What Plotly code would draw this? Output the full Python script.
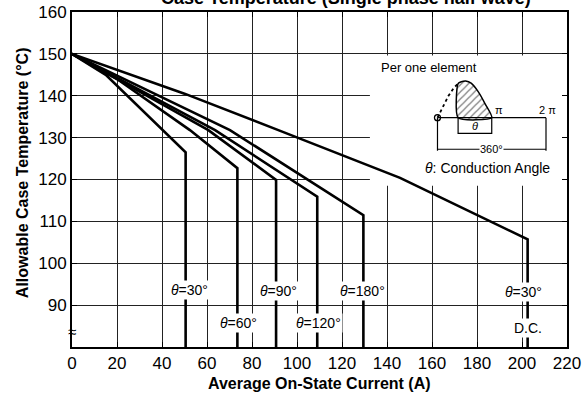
import plotly.graph_objects as go

# ---------------- data ----------------
cur_30 = [0, 15, 50.5, 50.5]
tmp_30 = [150, 145, 126.5, 80]
cur_60 = [0, 20, 52.4, 73.5, 73.5]
tmp_60 = [150, 144, 131.8, 122.7, 80]
cur_90 = [0, 25, 60.6, 90.7, 90.7]
tmp_90 = [150, 142.5, 131.8, 119.9, 80]
cur_120 = [0, 30, 63.6, 109, 109]
tmp_120 = [150, 141.5, 131.8, 115.9, 80]
cur_180 = [0, 35, 70.2, 129.5, 129.5]
tmp_180 = [150, 141, 131.8, 111.5, 80]
cur_dc = [0, 50, 91.7, 145.8, 202.5, 202.5]
tmp_dc = [150, 140.5, 131.8, 120.4, 105.7, 80]

curves = [(cur_30, tmp_30), (cur_60, tmp_60), (cur_90, tmp_90),
          (cur_120, tmp_120), (cur_180, tmp_180), (cur_dc, tmp_dc)]

label_text = ["<i>θ</i>=30°", "<i>θ</i>=60°", "<i>θ</i>=90°", "<i>θ</i>=120°",
              "<i>θ</i>=180°", "<i>θ</i>=30°", "D.C."]
label_x = [52.4, 73.9, 91.7, 109.5, 129.3, 200.6, 202.8]
label_y = [93.6, 85.7, 93.4, 85.7, 93.4, 93.2, 84.5]

x_ticks = list(range(0, 221, 20))
y_ticks = list(range(80, 161, 10))
y_ticktext = [""] + [str(v) for v in y_ticks[1:]]

# inset sketch (units: angle in pi, amplitude 1)
hump_x = [0.38, 0.38, 0.44, 0.52, 0.62, 0.75, 0.88, 1.0, 0.38]
hump_y = [0.0, 0.93, 0.98, 1.0, 0.94, 0.71, 0.37, 0.0, 0.0]
dot_x = [0, 0.1, 0.2, 0.3, 0.38]
dot_y = [0, 0.31, 0.59, 0.81, 0.93]

FONT = "Liberation Sans, Arial, sans-serif"

fig = go.Figure()

for cx, cy in curves:
    fig.add_trace(go.Scatter(x=cx, y=cy, mode="lines",
                             line=dict(color="black", width=2.6),
                             showlegend=False, hoverinfo="skip"))

# inset traces
fig.add_trace(go.Scatter(x=hump_x, y=hump_y, mode="lines", fill="toself",
                         fillcolor="white",
                         fillpattern=dict(shape="/", fgcolor="black", bgcolor="white",
                                          size=5, solidity=0.25),
                         line=dict(color="black", width=1.5, shape="spline", smoothing=0.6),
                         xaxis="x2", yaxis="y2", showlegend=False, hoverinfo="skip"))
fig.add_trace(go.Scatter(x=dot_x, y=dot_y, mode="lines",
                         line=dict(color="black", width=1.8, dash="dot"),
                         xaxis="x2", yaxis="y2", showlegend=False, hoverinfo="skip"))
seg_x = [0, 2, None, 0, 0, None, 2, 2, None, 0.38, 0.38, 1.0, 1.0, None, 0, 2]
seg_y = [0, 0, None, 0, -0.9, None, 0, -0.9, None, 0, -0.43, -0.43, 0, None, -0.86, -0.86]
fig.add_trace(go.Scatter(x=seg_x, y=seg_y, mode="lines",
                         line=dict(color="black", width=1.2),
                         xaxis="x2", yaxis="y2", showlegend=False, hoverinfo="skip"))
fig.add_trace(go.Scatter(x=[0], y=[0], mode="markers",
                         marker=dict(symbol="circle-open", size=6, color="black",
                                     line=dict(width=1.3)),
                         xaxis="x2", yaxis="y2", showlegend=False, hoverinfo="skip"))

# white box behind the inset (covers grid, stays under the curves)
fig.add_shape(type="rect", xref="x", yref="y", x0=132.4, x1=220, y0=118.5, y1=149.6,
              fillcolor="white", line=dict(width=0), layer="between")

annotations = []
for t, x, y in zip(label_text, label_x, label_y):
    annotations.append(dict(x=x, y=y, xref="x", yref="y", text=t, showarrow=False,
                            font=dict(family=FONT, size=14, color="black"),
                            bgcolor="white", borderpad=1))

inset_txt = [
    dict(x=-1.06, y=1.38, text="Per one element", xanchor="left", size=13),
    dict(x=1.14, y=0.22, text="π", xanchor="center", size=11),
    dict(x=2.02, y=0.22, text="2 π", xanchor="center", size=11),
    dict(x=0.69, y=-0.22, text="<i>θ</i>", xanchor="center", size=11),
    dict(x=1.0, y=-0.86, text="360°", xanchor="center", size=11, bg="white"),
    dict(x=0.93, y=-1.38, text="<i>θ</i>: Conduction Angle", xanchor="center", size=14),
]
for a in inset_txt:
    annotations.append(dict(x=a["x"], y=a["y"], xref="x2", yref="y2", text=a["text"],
                            xanchor=a["xanchor"], yanchor="middle", showarrow=False,
                            font=dict(family=FONT, size=a["size"], color="black"),
                            bgcolor=a.get("bg", "rgba(0,0,0,0)"), borderpad=0))

annotations += [
    dict(x=0.501, y=-0.1075, xref="paper", yref="paper", showarrow=False,
         xanchor="center", yanchor="middle",
         text="<b>Average On-State Current (A)</b>",
         font=dict(family=FONT, size=16, color="black")),
    dict(x=-0.101, y=0.519, xref="paper", yref="paper", showarrow=False, textangle=-90,
         xanchor="center", yanchor="middle",
         text="<b>Allowable Case Temperature (°C)</b>",
         font=dict(family=FONT, size=16, color="black")),
    dict(x=0.554, y=1.042, xref="paper", yref="paper", showarrow=False,
         xanchor="center", yanchor="middle",
         text="<b>Case Temperature (Single phase half wave)</b>",
         font=dict(family=FONT, size=18, color="black")),
    dict(x=0, y=83.6, xref="paper", yref="y", showarrow=False, text="≈",
         xanchor="center", yanchor="middle",
         font=dict(family=FONT, size=15, color="black")),
]

fig.update_layout(
    width=588, height=401,
    margin=dict(l=72, r=21, t=12, b=54, autoexpand=False),
    paper_bgcolor="white", plot_bgcolor="rgba(0,0,0,0)",
    font=dict(family=FONT, color="black"),
    annotations=annotations,
    xaxis=dict(range=[0, 220], tickvals=x_ticks, ticktext=[str(v) for v in x_ticks],
               showgrid=True, gridcolor="#222", gridwidth=1,
               showline=True, linecolor="black", linewidth=2, mirror="ticks",
               ticks="inside", ticklen=5, tickcolor="black",
               tickfont=dict(family=FONT, size=17, color="black"),
               zeroline=False, fixedrange=True, automargin=False),
    yaxis=dict(range=[80, 160], tickvals=y_ticks, ticktext=y_ticktext,
               showgrid=True, gridcolor="#222", gridwidth=1,
               showline=True, linecolor="black", linewidth=2, mirror="ticks",
               ticks="inside", ticklen=5, tickcolor="black",
               tickfont=dict(family=FONT, size=17, color="black"),
               zeroline=False, fixedrange=True, automargin=False),
    xaxis2=dict(domain=[0.602, 1.0], range=[-1.244, 2.387], anchor="y2",
                visible=False, fixedrange=True),
    yaxis2=dict(domain=[0.4746, 0.8716], range=[-1.916, 1.708], anchor="x2",
                visible=False, fixedrange=True),
)

fig.write_html("out.html",
               config={"displayModeBar": False, "staticPlot": True},
               post_script="document.body.style.margin='0';"
                           "document.body.style.overflow='hidden';")
